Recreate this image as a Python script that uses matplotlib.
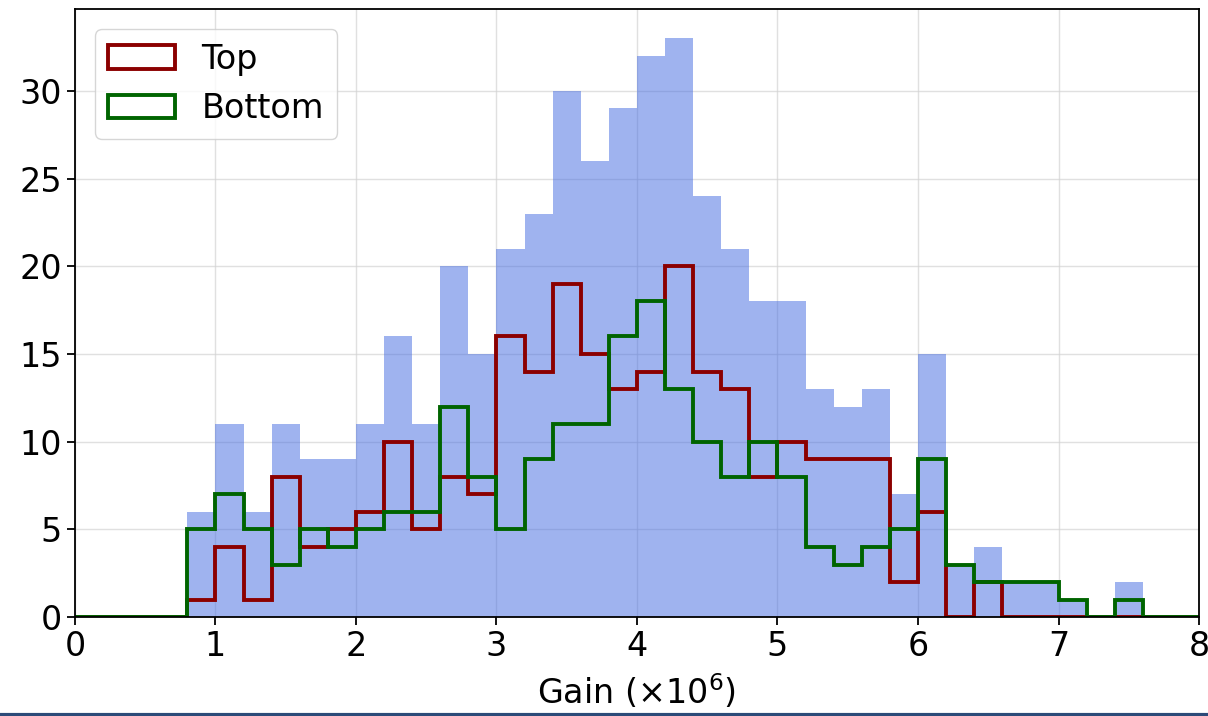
import numpy as np
import matplotlib.pyplot as plt
from matplotlib.lines import Line2D

# bin edges of the gain histogram (x10^6), 0.2 wide
edges = np.round(np.arange(0, 8.01, 0.2), 1)

# counts per bin
all_counts = [0, 0, 0, 0, 6, 11, 6, 11, 9, 9,
              11, 16, 11, 20, 15, 21, 23, 30, 26, 29,
              32, 33, 24, 21, 18, 18, 13, 12, 13, 7,
              15, 3, 4, 2, 2, 1, 0, 2, 0, 0]
top_counts = [0, 0, 0, 0, 1, 4, 1, 8, 4, 5,
              6, 10, 5, 8, 7, 16, 14, 19, 15, 13,
              14, 20, 14, 13, 8, 10, 9, 9, 9, 2,
              6, 0, 2, 0, 0, 0, 0, 0, 0, 0]
bottom_counts = [0, 0, 0, 0, 5, 7, 5, 3, 5, 4,
                 5, 6, 6, 12, 8, 5, 9, 11, 11, 16,
                 18, 13, 10, 8, 10, 8, 4, 3, 4, 5,
                 9, 3, 2, 2, 2, 1, 0, 1, 0, 0]

plt.rcParams['font.size'] = 24

fig = plt.figure(figsize=(12.08, 7.16), dpi=100)
ax = fig.add_axes([0.062, 0.138, 0.9306, 0.849])

left = edges[:-1]
ax.hist(left, bins=edges, weights=all_counts, color='royalblue', alpha=0.5)
ax.hist(left, bins=edges, weights=top_counts, histtype='step',
        color='darkred', linewidth=2.8, label='Top')
ax.hist(left, bins=edges, weights=bottom_counts, histtype='step',
        color='darkgreen', linewidth=2.8, label='Bottom')

ax.set_xlim(0, 8)
ax.set_xlabel(r'Gain ($\times10^6$)', labelpad=6)
ax.grid(True, color='lightgrey', alpha=0.7, linewidth=1)
ax.set_axisbelow(True)
ax.tick_params(length=6, width=1.3)
for s in ax.spines.values():
    s.set_linewidth(1.3)

ax.legend(loc='upper left', handlelength=2.0, borderaxespad=0.6)

# thin strip along the bottom edge of the screenshot
fig.add_artist(Line2D([0, 1], [0.002, 0.002], color='#2c4a78', linewidth=3,
                      transform=fig.transFigure))

fig.savefig('out.png', dpi=100)
